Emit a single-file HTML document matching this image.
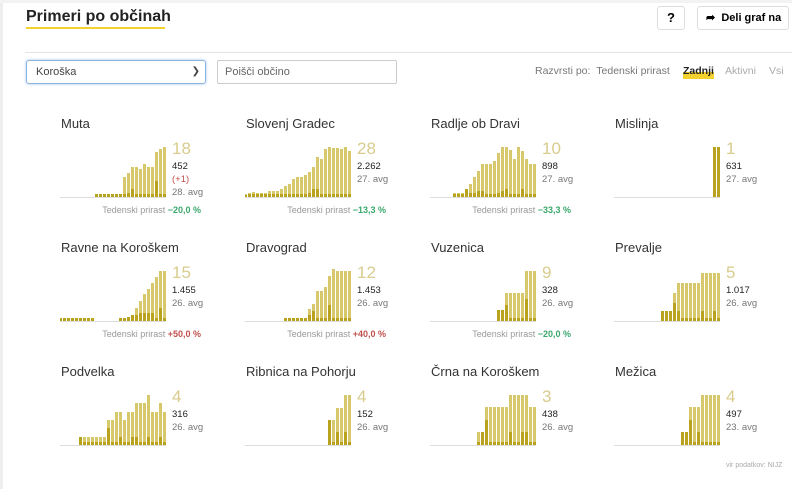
<!DOCTYPE html>
<html><head><meta charset="utf-8"><style>
*{margin:0;padding:0;box-sizing:border-box}
body{width:792px;height:489px;background:#fff;font-family:"Liberation Sans",sans-serif;position:relative;overflow:hidden}
.a{position:absolute;white-space:nowrap}
.t{font-size:13px;color:#333}
.big{font-size:17px;color:#d8cc8e}
.n{font-size:9.5px;color:#222}
.g{font-size:9.5px;color:#777}
.p{font-size:9px;color:#999}
</style></head><body>
<div class="a" style="left:0;top:0;width:3px;height:489px;background:#eee"></div>
<div class="a" style="left:0;top:0;width:792px;height:3px;background:#f3f3f3"></div>
<div class="a" style="left:26px;top:8px;font-size:16px;font-weight:bold;color:#222">Primeri po občinah</div>
<div class="a" style="left:26px;top:27px;width:139px;height:2px;background:#f3d12e"></div>
<div class="a" style="left:657px;top:6px;width:28px;height:24px;border:1px solid #ddd;border-radius:3px;font-size:13px;font-weight:bold;text-align:center;line-height:22px">?</div>
<div class="a" style="left:697px;top:6px;width:92px;height:24px;border:1px solid #ddd;border-radius:3px;font-size:11px;font-weight:bold;line-height:22px;padding-left:8px">➦ &nbsp;Deli graf na</div>
<div class="a" style="left:25px;top:52px;width:767px;height:1px;background:#e3e3e3"></div>
<div class="a" style="left:26px;top:60px;width:180px;height:24px;border:1px solid #8ab4e0;border-radius:3px;box-shadow:0 0 3px #a8c8ec;font-size:11px;color:#444;line-height:22px;padding-left:9px">Koroška<span style="position:absolute;right:5px;top:0;font-size:10px">&#10095;</span></div>
<div class="a" style="left:217px;top:60px;width:180px;height:24px;border:1px solid #ccc;border-radius:2px;font-size:11px;color:#666;line-height:22px;padding-left:7px">Poišči občino</div>
<div class="a" style="left:535px;top:65px;font-size:10.5px;color:#777">Razvrsti po: &nbsp;Tedenski prirast</div>
<div class="a" style="left:683px;top:72px;width:31px;height:7px;background:#f3d12e"></div>
<div class="a" style="left:683px;top:65px;font-size:10.5px;font-weight:bold;color:#222">Zadnji</div>
<div class="a" style="left:725px;top:65px;font-size:10.5px;color:#aaa">Aktivni</div>
<div class="a" style="left:769px;top:65px;font-size:10.5px;color:#aaa">Vsi</div>
<div class="a" style="left:726px;top:462px;font-size:7px;color:#aaa">vir podatkov: NIJZ</div>
<div id="c"></div>
<script>
var D=[
["Muta",61,197,"18","452","(+1)","28. avg","−20,0 %",1,[0,0,0,0,0,0,0,0,0,3,3,3,3,3,3,3,20,24,30,30,28,33,30,30,45,48,50],[0,0,0,0,0,0,0,0,0,3,3,3,3,3,3,3,3,4,8,3,3,3,3,3,16,3,3]],
["Slovenj Gradec",246,197,"28","2.262","","27. avg","−13,3 %",1,[3,4,5,4,4,4,6,6,6,8,11,13,18,20,20,22,25,30,40,38,48,50,49,49,48,50,46],[2,3,3,3,3,3,3,3,3,3,3,3,3,3,3,3,4,8,8,3,3,3,3,3,3,3,3]],
["Radlje ob Dravi",431,197,"10","898","","27. avg","−33,3 %",1,[0,0,0,0,4,4,4,8,13,20,26,33,33,33,36,44,50,50,47,38,50,46,38,33,33],[0,0,0,0,3,3,3,8,4,4,6,6,3,3,3,4,6,8,3,3,3,8,3,3,3]],
["Mislinja",615,197,"1","631","","27. avg","",0,[50,50],[50,50]],
["Ravne na Koroškem",61,321,"15","1.455","","26. avg","+50,0 %",2,[3,3,3,3,3,3,3,3,3,0,0,0,0,0,0,3,3,4,6,13,20,27,32,38,44,50,50],[3,3,3,3,3,3,3,3,3,0,0,0,0,0,0,3,3,4,6,6,8,8,8,8,3,13,3]],
["Dravograd",246,321,"12","1.453","","26. avg","+40,0 %",2,[0,0,0,0,0,0,0,0,0,0,3,3,3,3,3,3,12,17,30,30,34,45,52,50,50,50,50],[0,0,0,0,0,0,0,0,0,0,3,3,3,3,3,3,6,10,3,3,3,16,3,3,3,3,3]],
["Vuzenica",431,321,"9","328","","26. avg","−20,0 %",1,[11,11,28,28,28,28,28,50,50,50],[11,11,16,3,3,3,3,22,3,3]],
["Prevalje",615,321,"5","1.017","","26. avg","",0,[10,10,10,28,38,38,38,38,38,38,48,48,48,48,48],[10,10,10,18,10,3,3,3,3,3,10,3,3,10,3]],
["Podvelka",61,445,"4","316","","26. avg","",0,[8,8,8,8,8,8,8,25,25,33,33,25,33,33,42,42,42,50,33,33,42,33],[8,3,3,3,3,3,3,17,3,3,8,3,3,8,8,3,3,8,3,3,8,3]],
["Ribnica na Pohorju",246,445,"4","152","","26. avg","",0,[25,25,37,37,50,50],[25,3,13,3,13,3]],
["Črna na Koroškem",431,445,"3","438","","26. avg","",0,[13,13,38,38,38,38,38,38,50,50,50,50,50,38,38],[3,13,25,3,3,3,3,3,13,3,3,13,13,3,3]],
["Mežica",615,445,"4","497","","23. avg","",0,[13,13,38,38,38,50,50,50,50,50],[13,13,25,3,13,3,3,3,3,3]]
];
var h="";
D.forEach(function(d){
var x=d[1],b=d[2],bars=d[9],dk=d[10],re=x+106,n=bars.length,s="";
s+='<line x1="0" y1="'+(b+0.5)+'" x2="'+(re-1)+'" y2="'+(b+0.5)+'" stroke="#ddd"/>';
for(var i=0;i<n;i++){var bx=re-(n-i)*4;if(bars[i])s+='<rect x="'+bx+'" y="'+(b-bars[i])+'" width="3" height="'+bars[i]+'" fill="#d7c86c"/>';if(dk[i])s+='<rect x="'+bx+'" y="'+(b-dk[i])+'" width="3" height="'+dk[i]+'" fill="#b8a21e"/>';}
h+='<svg class="a" style="left:'+(x-1)+'px;top:0" width="'+(re-x+2)+'" height="489" viewBox="'+(x-1)+' 0 '+(re-x+2)+' 489">'+s+'</svg>';
h+='<div class="a t" style="left:'+x+'px;top:'+(b-81)+'px">'+d[0]+'</div>';
h+='<div class="a big" style="left:'+(re+5)+'px;top:'+(b-58)+'px">'+d[3]+'</div>';
h+='<div class="a n" style="left:'+(re+5)+'px;top:'+(b-36)+'px">'+d[4]+'</div>';
var ay=b-23;
if(d[5]){h+='<div class="a n" style="left:'+(re+5)+'px;top:'+(b-23)+'px;color:#c0504d">'+d[5]+'</div>';ay=b-10;}
h+='<div class="a g" style="left:'+(re+5)+'px;top:'+ay+'px">'+d[6]+'</div>';
if(d[7])h+='<div class="a p" style="right:'+(792-(re+34))+'px;top:'+(b+8)+'px">Tedenski prirast <b style="color:'+(d[8]==1?'#3aa76d':'#c0504d')+'">'+d[7]+'</b></div>';
});
document.getElementById("c").innerHTML=h;
</script>
</body></html>
